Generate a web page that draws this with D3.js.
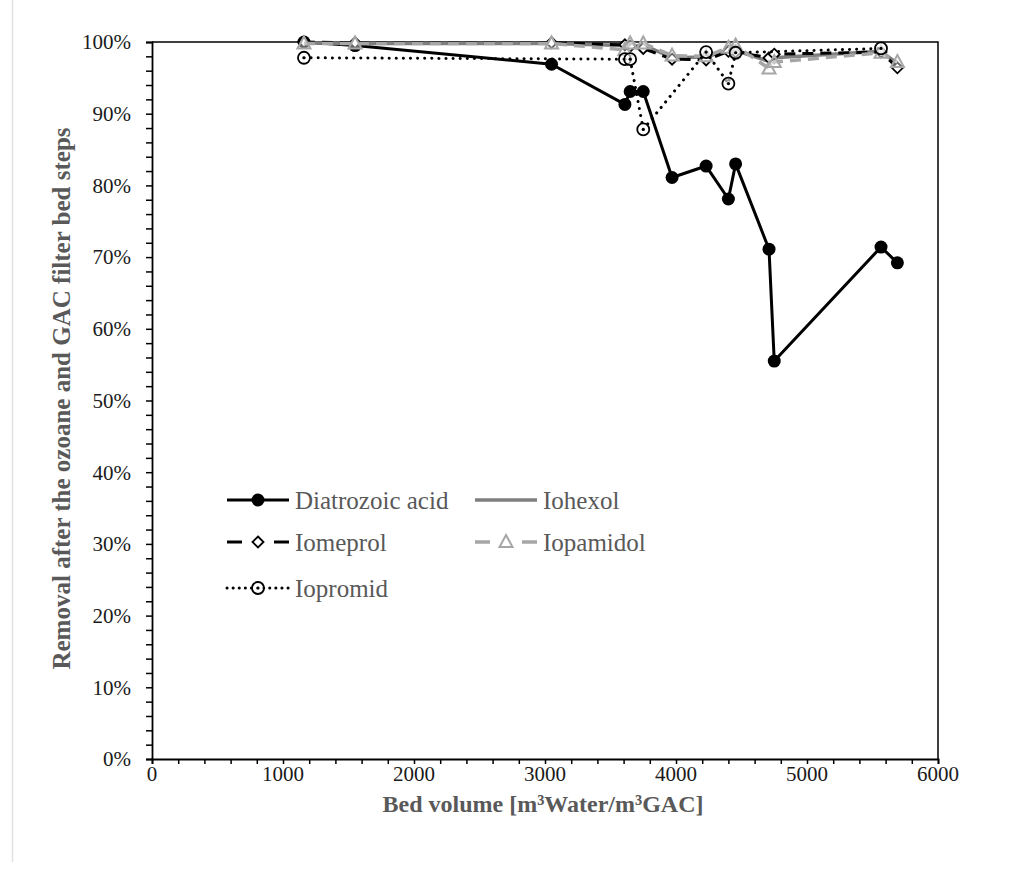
<!DOCTYPE html>
<html>
<head>
<meta charset="utf-8">
<script src="https://cdn.jsdelivr.net/npm/d3@7"></script>
<style>
  body { margin: 0; background: #fff; }
  svg text { font-family: "Liberation Serif", "DejaVu Serif", serif; }
</style>
</head>
<body>
<svg id="chart" width="1022" height="877"></svg>
<script>
// bed volume of each sample
const bedVolume = [1160, 1550, 3050, 3610, 3650, 3750, 3970, 4230, 4400, 4455, 4710, 4750, 5565, 5690];

// removal in %, null where the series has no sample
const diatrozoic = [100, 99.5, 96.9, 91.3, 93.1, 93.1, 81.1, 82.7, 78.1, 83.0, 71.1, 55.5, 71.4, 69.2];
const iohexol    = [99.9, 99.8, 99.8, 99.5, 99.3, 99.6, 97.8, 97.9, 98.9, 98.8, 97.3, 97.8, 98.7, 97.0];
const iomeprol   = [100, 99.9, 99.9, 99.6, 99.4, 99.1, 97.6, 97.5, 98.7, 98.6, 97.8, 98.3, 98.6, 96.4];
const iopamidol  = [99.8, 99.8, 99.8, 98.9, 99.8, 99.8, 98.1, 98.0, 99.2, 99.5, 96.3, 97.2, 98.5, 97.2];
const iopromid   = [97.8, null, null, 97.6, 97.6, 87.8, null, 98.6, 94.2, 98.5, null, null, 99.1, null];

const yTicks = [0, 10, 20, 30, 40, 50, 60, 70, 80, 90, 100];
const xTicks = [0, 1000, 2000, 3000, 4000, 5000, 6000];

const series = [
  { name: 'Diatrozoic acid', values: diatrozoic, color: '#000', width: 3, dash: null, marker: 'dot' },
  { name: 'Iohexol', values: iohexol, color: '#7f7f7f', width: 3.5, dash: null, marker: null },
  { name: 'Iomeprol', values: iomeprol, color: '#000', width: 3, dash: '11,7', marker: 'diamond' },
  { name: 'Iopamidol', values: iopamidol, color: '#a6a6a6', width: 3.5, dash: '11,7', marker: 'triangle' },
  { name: 'Iopromid', values: iopromid, color: '#000', width: 3, dash: '0.1,7', marker: 'ring' }
];

const svg = d3.select('#chart');
const margin = { top: 42, right: 84, bottom: 118, left: 152 };
const width = +svg.attr('width');
const height = +svg.attr('height');
const innerWidth = width - margin.left - margin.right;
const innerHeight = height - margin.top - margin.bottom;

// faint page border like the scanned figure
svg.append('line').attr('x1', 12.5).attr('x2', 12.5).attr('y1', 0).attr('y2', 862)
  .attr('stroke', '#e2e2e2').attr('stroke-width', 1.5);

const xScale = d3.scaleLinear().domain([0, 6000]).range([0, innerWidth]);
const yScale = d3.scaleLinear().domain([0, 100]).range([innerHeight, 0]);

const g = svg.append('g').attr('transform', `translate(${margin.left}, ${margin.top})`);

// frame (top and right)
g.append('path')
  .attr('d', `M0,0H${innerWidth}V${innerHeight}`)
  .attr('fill', 'none').attr('stroke', '#000').attr('stroke-width', 1.5);

// minor ticks
const yAxis = g.append('g')
  .call(d3.axisLeft(yScale).tickValues(d3.range(0, 101, 2)).tickSize(6).tickFormat(''));
yAxis.selectAll('text').remove();
const xAxis = g.append('g').attr('transform', `translate(0, ${innerHeight})`)
  .call(d3.axisBottom(xScale).tickValues(d3.range(0, 6001, 200)).tickSize(5).tickFormat(''));
xAxis.selectAll('text').remove();
[yAxis, xAxis].forEach(a => {
  a.select('.domain').attr('stroke-width', 1.8).attr('stroke', '#000');
  a.selectAll('.tick line').attr('stroke-width', 1.5).attr('stroke', '#000');
});

// tick labels
g.append('g').selectAll('text').data(yTicks).enter().append('text')
  .attr('x', -21).attr('y', d => yScale(d)).attr('dy', '0.35em')
  .attr('text-anchor', 'end').attr('font-size', 21).attr('fill', '#1a1a1a')
  .text(d => d + '%');
g.append('g').selectAll('text').data(xTicks).enter().append('text')
  .attr('x', d => xScale(d)).attr('y', innerHeight + 22)
  .attr('text-anchor', 'middle').attr('font-size', 21).attr('fill', '#1a1a1a')
  .text(d => d);

// axis titles
svg.append('text')
  .attr('x', margin.left + innerWidth / 2 - 2).attr('y', 812)
  .attr('text-anchor', 'middle').attr('font-size', 24).attr('font-weight', 'bold').attr('fill', '#595959')
  .text('Bed volume [m³Water/m³GAC]');
svg.append('text')
  .attr('transform', `translate(70, ${margin.top + innerHeight / 2 - 2}) rotate(-90)`)
  .attr('text-anchor', 'middle').attr('font-size', 25).attr('font-weight', 'bold').attr('fill', '#595959')
  .text('Removal after the ozoane and GAC filter bed steps');

function drawMarker(sel, type, color) {
  if (type === 'dot') {
    sel.append('circle').attr('r', 6.5).attr('fill', '#000');
  } else if (type === 'diamond') {
    sel.append('path').attr('d', 'M0,-5.5L5.5,0L0,5.5L-5.5,0Z')
      .attr('fill', '#fff').attr('stroke', '#000').attr('stroke-width', 1.8);
  } else if (type === 'triangle') {
    sel.append('path').attr('d', 'M0,-7L6.5,5L-6.5,5Z')
      .attr('fill', '#fff').attr('fill-opacity', 0.4).attr('stroke', color).attr('stroke-width', 2);
  } else if (type === 'ring') {
    sel.append('circle').attr('r', 6).attr('fill', '#fff').attr('fill-opacity', 0.6)
      .attr('stroke', '#000').attr('stroke-width', 1.8);
    sel.append('circle').attr('r', 1.6).attr('fill', '#000');
  }
}

const line = d3.line()
  .x(d => xScale(d[0])).y(d => yScale(d[1]));

series.forEach(s => {
  const pts = bedVolume.map((x, i) => [x, s.values[i]]).filter(d => d[1] !== null);
  g.append('path').datum(pts)
    .attr('d', line)
    .attr('fill', 'none').attr('stroke', s.color).attr('stroke-width', s.width)
    .attr('stroke-dasharray', s.dash).attr('stroke-linecap', s.marker === 'ring' ? 'round' : 'butt')
    .attr('stroke-linejoin', 'round');
  if (s.marker) {
    g.append('g').selectAll('g').data(pts).enter().append('g')
      .attr('transform', d => `translate(${xScale(d[0])}, ${yScale(d[1])})`)
      .each(function() { drawMarker(d3.select(this), s.marker, s.color); });
  }
});

// legend
const legendPos = [[227, 500], [475, 500], [227, 542], [475, 542], [227, 588]];
series.forEach((s, i) => {
  const [lx, ly] = legendPos[i];
  const lg = svg.append('g').attr('transform', `translate(${lx}, ${ly})`);
  lg.append('line').attr('x1', 0).attr('x2', 62).attr('y1', 0).attr('y2', 0)
    .attr('stroke', s.color).attr('stroke-width', s.width)
    .attr('stroke-dasharray', s.dash ? (s.marker === 'ring' ? '0.1,6' : '15,32') : null)
    .attr('stroke-linecap', s.marker === 'ring' ? 'round' : 'butt');
  if (s.marker) {
    const m = lg.append('g').attr('transform', 'translate(31, 0)');
    drawMarker(m, s.marker, s.color);
  }
  lg.append('text').attr('x', 68).attr('y', 0).attr('dy', '0.35em')
    .attr('font-size', 25).attr('fill', '#595959').text(s.name);
});
</script>
</body>
</html>
